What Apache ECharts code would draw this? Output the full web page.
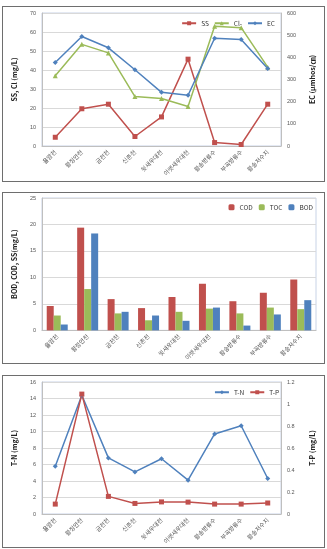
<!DOCTYPE html>
<html>
<head>
<meta charset="utf-8">
<script src="https://cdn.jsdelivr.net/npm/echarts@6/dist/echarts.min.js"></script>
<style>
  html, body { margin: 0; padding: 0; background: #fff; }
  body { width: 327px; height: 549px; position: relative; overflow: hidden; }
  .panel { position: absolute; left: 2px; width: 321px; border: 1px solid #6e6e6e; box-sizing: content-box; }
</style>
</head>
<body>
<div class="panel" id="c1" style="top:6px;height:174px"></div>
<div class="panel" id="c2" style="top:192px;height:170px"></div>
<div class="panel" id="c3" style="top:375px;height:171px"></div>
<script>
const sites = ['율암천', '황정안천', '금천천', '신촌천', '윗새우대천', '아랫새우대천', '황송방류수', '부곡방류수', '황송저수지']

// chart 1
const ss = [4.6, 19.6, 22, 5, 15.3, 45.7, 1.8, 0.8, 22]
const cl = [37, 53.5, 49, 26, 25, 20.8, 63, 62.3, 41.5]
const ec = [377, 494, 443, 344, 242, 229, 486, 480, 350]

// chart 2
const cod = [4.6, 19.4, 5.9, 4.2, 6.3, 8.8, 5.5, 7.1, 9.6]
const toc = [2.8, 7.8, 3.2, 1.9, 3.5, 4.1, 3.2, 4.3, 4.0]
const bod = [1.1, 18.3, 3.5, 2.8, 1.8, 4.3, 0.9, 3.0, 5.7]

// chart 3
const tn = [5.8, 14.4, 6.8, 5.1, 6.7, 4.1, 9.7, 10.7, 4.3]
const tp = [0.09, 1.09, 0.16, 0.096, 0.11, 0.108, 0.09, 0.09, 0.10]

const RED = '#c0504d'
const GREEN = '#9bbb59'
const BLUE = '#4f81bd'
const FONT = '"Noto Sans CJK KR", "Noto Sans", sans-serif'

const catAxis = () => ({
  type: 'category',
  data: sites,
  boundaryGap: true,
  axisTick: { show: false },
  axisLine: { lineStyle: { color: '#bfbfbf' } },
  axisLabel: { rotate: 45, fontSize: 6, color: '#555', fontFamily: FONT, interval: 0, margin: 5 }
})

const valAxis = (name, min, max, interval, pos, grid = true) => ({
  type: 'value',
  name,
  position: pos,
  nameLocation: 'middle',
  nameRotate: 90,
  nameGap: pos === 'left' ? 24 : 28,
  nameTextStyle: { fontSize: 7, color: '#222', fontFamily: FONT, fontWeight: 'bold' },
  min, max, interval,
  axisLine: { show: true, lineStyle: { color: '#bfbfbf' } },
  axisTick: { show: false },
  axisLabel: { fontSize: 5.5, color: '#555', margin: 6 },
  splitLine: { show: grid, lineStyle: { color: '#d9d9d9' } }
})

const lineSeries = (name, data, color, symbol, yAxisIndex = 0) => ({
  name, data, type: 'line', yAxisIndex,
  symbol, symbolSize: 5,
  lineStyle: { color, width: 1.5 },
  itemStyle: { color }
})

const legend = (right, top, names) => ({
  right, top,
  data: names,
  itemWidth: 14, itemHeight: 5, itemGap: 5,
  textStyle: { fontSize: 6.5, color: '#333', fontFamily: FONT }
})

const chart1 = echarts.init(document.getElementById('c1'))
chart1.setOption({
  animation: false,
  grid: { left: 35, right: 38, top: 6, bottom: 35, show: true, borderColor: '#c8d3e6', borderWidth: 1 },
  legend: legend(44, 8, ['SS', 'Cl-', 'EC']),
  xAxis: catAxis(),
  yAxis: [
    valAxis('SS, Cl (mg/L)', 0, 70, 10, 'left'),
    valAxis('EC (μmhos/㎝)', 0, 600, 100, 'right', false)
  ],
  series: [
    lineSeries('SS', ss, RED, 'rect'),
    lineSeries('Cl-', cl, GREEN, 'triangle'),
    lineSeries('EC', ec, BLUE, 'diamond', 1)
  ]
})

const chart2 = echarts.init(document.getElementById('c2'))
const bar = (name, data, color) => ({ name, data, type: 'bar', barWidth: 7, barGap: '0%', itemStyle: { color } })
chart2.setOption({
  animation: false,
  grid: { left: 35, right: 8, top: 5, bottom: 32, show: true, borderColor: '#c8d3e6', borderWidth: 1 },
  legend: { ...legend(6, 6, ['COD', 'TOC', 'BOD']), itemWidth: 6, itemHeight: 6, itemGap: 6 },
  xAxis: catAxis(),
  yAxis: valAxis('BOD, COD, SS(mg/L)', 0, 25, 5, 'left'),
  series: [bar('COD', cod, RED), bar('TOC', toc, GREEN), bar('BOD', bod, BLUE)]
})

const chart3 = echarts.init(document.getElementById('c3'))
chart3.setOption({
  animation: false,
  grid: { left: 35, right: 36, top: 6, bottom: 33, show: true, borderColor: '#c8d3e6', borderWidth: 1 },
  legend: legend(40, 8, ['T-N', 'T-P']),
  xAxis: catAxis(),
  yAxis: [
    valAxis('T-N (mg/L)', 0, 16, 2, 'left'),
    valAxis('T-P (mg/L)', 0, 1.2, 0.2, 'right', false)
  ],
  series: [
    lineSeries('T-N', tn, BLUE, 'diamond'),
    lineSeries('T-P', tp, RED, 'rect', 1)
  ]
})
</script>
</body>
</html>
